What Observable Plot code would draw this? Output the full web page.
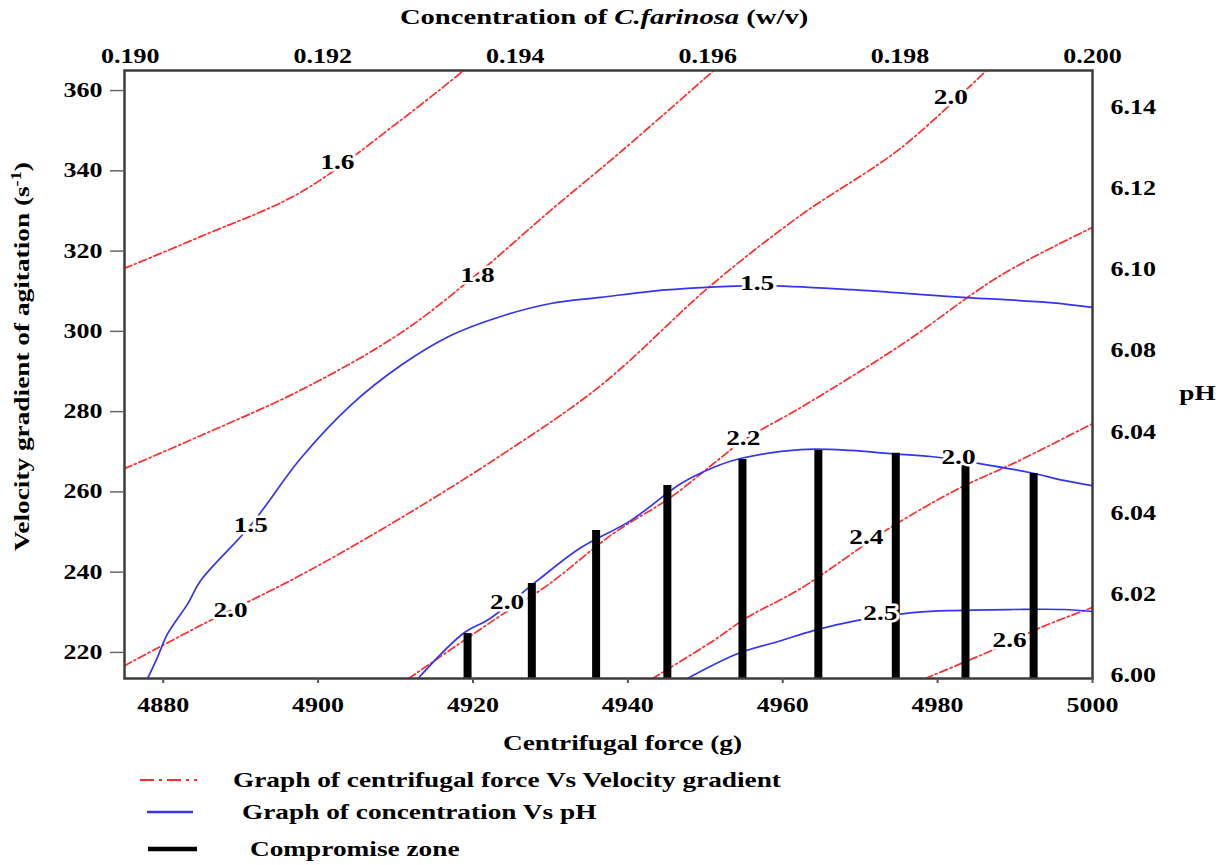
<!DOCTYPE html>
<html>
<head>
<meta charset="utf-8">
<script src="https://cdn.jsdelivr.net/npm/d3@7"></script>
<script src="https://cdn.jsdelivr.net/npm/@observablehq/plot@0.6"></script>
<style>
html,body{margin:0;padding:0;background:#fff;}
#wrap{position:relative;width:1225px;height:865px;font-family:"Liberation Serif","Times New Roman",serif;font-weight:bold;color:#000;}
#title{position:absolute;top:4px;left:0;width:1208px;text-align:center;font-size:22px;line-height:26px;white-space:nowrap;}
#title span{display:inline-block;transform:scaleX(1.3);transform-origin:50% 50%;}
#chart{position:absolute;top:36px;left:0;}
.leg{position:absolute;left:0;width:900px;height:24px;}
.leg svg{position:absolute;top:0;left:0;}
.leg span{position:absolute;top:0;white-space:nowrap;font-size:21px;line-height:24px;transform:scaleX(1.3);transform-origin:0 50%;}
</style>
</head>
<body>
<div id="wrap">
  <div id="title"><span>Concentration of <i>C.farinosa</i> (w/v)</span></div>
  <div id="chart"></div>
  <div id="legend"></div>
</div>
<script>
// ---------- axes / scales ----------
const xDomain = [4875, 5000];          // centrifugal force (g)
const yDomain = [213.5, 365];          // velocity gradient (s^-1)
const concDomain = [0.18994, 0.2];     // concentration of C.farinosa (w/v), top axis
const pHDomain = [5.9993, 6.1491];     // pH, right axis

const xTicks = [4880, 4900, 4920, 4940, 4960, 4980, 5000];
const yTicks = [220, 240, 260, 280, 300, 320, 340, 360];
const concTicks = [0.190, 0.192, 0.194, 0.196, 0.198, 0.200];
const concTickLabels = ["0.190", "0.192", "0.194", "0.196", "0.198", "0.200"];
const pHTicks = [6.00, 6.02, 6.04, 6.06, 6.08, 6.10, 6.12, 6.14];
const pHTickLabels = ["6.00", "6.02", "6.04", "6.04", "6.08", "6.10", "6.12", "6.14"];

// ---------- centrifugal force vs velocity gradient contours [g, s^-1] ----------
const cfContour1 = [[4875.0,315.7],[4884.8,323.6],[4897.7,334.6],[4910.6,352.5],[4919.0,365.3]];
const cfContour2 = [[4875.0,265.8],[4884.8,274.0],[4897.7,285.3],[4910.6,299.5],[4920.3,313.9],[4930.0,330.1],[4939.0,344.6],[4951.2,365.2]];
const cfContour3 = [[4875.0,216.7],[4884.8,226.7],[4897.7,239.2],[4910.6,253.4],[4923.6,269.1],[4936.5,286.5],[4950.7,311.4],[4962.3,328.9],[4975.2,345.6],[4986.4,365.2]];
const cfContour4 = [[4911.7,213.5],[4923.2,228.7],[4929.6,236.7],[4938.1,249.6],[4945.5,258.6],[4951.1,267.1],[4954.9,272.8],[4962.3,281.0],[4975.2,296.5],[4988.1,313.9],[5000.0,325.9]];
const cfContour5 = [[4943.2,213.5],[4951.1,223.0],[4955.4,228.7],[4962.3,235.9],[4973.9,251.1],[4983.0,261.1],[4989.8,267.1],[5000.0,277.0]];
const cfContour6 = [[4978.4,213.5],[4983.0,217.2],[4989.0,222.2],[4993.3,226.2],[5000.0,231.2]];

// ---------- concentration vs pH contours [w/v, pH] ----------
const phContour1 = [[0.19018,5.9993],[0.19028,6.0044],[0.19039,6.0104],[0.19060,6.0178],[0.19073,6.0234],[0.19125,6.0370],[0.19177,6.0535],[0.19229,6.0666],[0.19281,6.0764],[0.19333,6.0838],[0.19385,6.0885],[0.19437,6.0917],[0.19489,6.0932],[0.19541,6.0947],[0.19593,6.0956],[0.19655,6.0961],[0.19749,6.0951],[0.19853,6.0934],[0.19956,6.0919],[0.20000,6.0907]];
const phContour2 = [[0.19299,5.9993],[0.19346,6.0104],[0.19374,6.0141],[0.19423,6.0234],[0.19468,6.0315],[0.19520,6.0382],[0.19572,6.0473],[0.19606,6.0513],[0.19634,6.0535],[0.19697,6.0557],[0.19749,6.0555],[0.19790,6.0547],[0.19832,6.0540],[0.19884,6.0522],[0.19936,6.0500],[0.19970,6.0481],[0.20000,6.0468]];
const phContour3 = [[0.19579,5.9993],[0.19631,6.0054],[0.19676,6.0086],[0.19710,6.0111],[0.19756,6.0136],[0.19804,6.0153],[0.19849,6.0160],[0.19918,6.0163],[0.19970,6.0163],[0.20000,6.0158]];

// ---------- compromise zone ----------
const zoneCF = [4919.3, 4927.6, 4935.9, 4945.1, 4954.8, 4964.6, 4974.6, 4983.6, 4992.4];
const zoneTop = [224.7, 237.2, 250.4, 261.6, 268.1, 270.3, 269.6, 266.6, 264.6];

// ---------- contour labels ----------
const labelText = ["1.6", "1.8", "2.0", "2.0", "2.0", "2.2", "2.4", "2.6", "1.5", "1.5", "2.0", "2.5"];
const labelCF   = [4902.5, 4920.6, 4888.7, 4981.7, 4924.4, 4954.9, 4970.8, 4989.3, 4891.3, 4956.7, 4982.7, 4972.6];
const labelV    = [342.1, 313.9, 230.4, 358.3, 232.4, 273.3, 248.6, 223.0, 251.6, 311.9, 268.6, 229.7];

// ---------- legend ----------
const legendLabels = ["Graph of centrifugal force Vs Velocity gradient", "Graph of concentration Vs pH", "Compromise zone"];

const RED = "#ff2b2b", BLUE = "#3434f2";

const toX = c => xDomain[0] + (c - concDomain[0]) / (concDomain[1] - concDomain[0]) * (xDomain[1] - xDomain[0]);
const toY = p => yDomain[0] + (p - pHDomain[0]) / (pHDomain[1] - pHDomain[0]) * (yDomain[1] - yDomain[0]);
const concLabelAt = d => concTickLabels[concTicks.findIndex(c => Math.abs(toX(c) - d) < 1e-6)];
const pHLabelAt = d => pHTickLabels[pHTicks.findIndex(p => Math.abs(toY(p) - d) < 1e-6)];

const redContours = [cfContour1, cfContour2, cfContour3, cfContour4, cfContour5, cfContour6];
const blueContours = [phContour1, phContour2, phContour3];
const zone = zoneCF.map((x, i) => ({x, top: zoneTop[i]}));
const labels = labelText.map((t, i) => ({t, x: labelCF[i], y: labelV[i]}));

const chart = Plot.plot({
  width: 1225,
  height: 730,
  marginTop: 34,
  marginLeft: 124,
  marginRight: 133,
  marginBottom: 88,
  x: {domain: xDomain},
  y: {domain: yDomain},
  style: {fontFamily: "'Liberation Serif','Times New Roman',serif", fontSize: "20px", fontWeight: "bold", color: "#000", background: "transparent", overflow: "visible"},
  marks: [
    ...redContours.map(c => Plot.line(c, {x: d => d[0], y: d => d[1], stroke: RED, strokeWidth: 1.7, strokeDasharray: "8,3,2,3", curve: "catmull-rom", clip: true})),
    ...blueContours.map(c => Plot.line(c, {x: d => toX(d[0]), y: d => toY(d[1]), stroke: BLUE, strokeWidth: 1.7, curve: "catmull-rom", clip: true})),
    Plot.ruleX(zone, {x: "x", y1: yDomain[0], y2: "top", stroke: "#000", strokeWidth: 8}),
    Plot.text(labels, {x: "x", y: "y", text: "t", fill: "#000", stroke: "white", strokeWidth: 5, fontSize: 21, fontWeight: "bold"}),
    Plot.frame({stroke: "#3d3d3d", strokeWidth: 2.5}),
    Plot.axisY({ticks: yTicks, anchor: "left", tickSize: 14, tickPadding: 8, tickFormat: d => `${d}`, label: null, stroke: "#666", strokeWidth: 1.5, fill: "#000", fontSize: 20}),
    Plot.axisX({ticks: xTicks, anchor: "bottom", tickSize: 5, tickPadding: 14, tickFormat: d => `${d}`, label: null, stroke: "#555", strokeWidth: 2, fill: "#000", fontSize: 20}),
    Plot.axisX({ticks: concTicks.map(toX), anchor: "top", tickSize: 0, tickPadding: 8, tickFormat: concLabelAt, label: null, fill: "#000", fontSize: 20}),
    Plot.axisY({ticks: pHTicks.map(toY), anchor: "right", tickSize: 0, tickPadding: 18, tickFormat: pHLabelAt, label: null, fill: "#000", fontSize: 20}),
    Plot.text(["Velocity gradient of agitation (s"], {frameAnchor: "left", rotate: -90, dx: -102, dy: -18, textAnchor: "middle", lineAnchor: "middle", fontSize: 21, fontWeight: "bold", fill: "#000"}),
    Plot.text(["Centrifugal force (g)"], {frameAnchor: "bottom", dx: 14, dy: 65, textAnchor: "middle", lineAnchor: "middle", fontSize: 21, fontWeight: "bold", fill: "#000"}),
    Plot.text(["pH"], {frameAnchor: "right", dx: 105, dy: 19, textAnchor: "middle", lineAnchor: "middle", fontSize: 21, fontWeight: "bold", fill: "#000"})
  ]
});
document.getElementById("chart").appendChild(chart);

// superscript in the left title
const ns = "http://www.w3.org/2000/svg";
chart.querySelectorAll("text").forEach(t => {
  if (t.textContent === "Velocity gradient of agitation (s") {
    const sup = document.createElementNS(ns, "tspan");
    sup.setAttribute("dy", "-8"); sup.setAttribute("font-size", "14");
    sup.textContent = "-1";
    const close = document.createElementNS(ns, "tspan");
    close.setAttribute("dy", "8");
    close.textContent = ")";
    t.appendChild(sup); t.appendChild(close);
  }
});
// the reference uses wide (horizontally stretched) glyphs: widen every text
const SX = 1.3;
chart.querySelectorAll("text").forEach(t => {
  const L = t.getComputedTextLength();
  if (L > 0) {
    t.setAttribute("textLength", (L * SX).toFixed(1));
    t.setAttribute("lengthAdjust", "spacingAndGlyphs");
  }
});

// legend
const legendStyle = [
  {color: RED, width: 2.2, dash: "14,5,3,5", x1: 140, x2: 197, textX: 233, cy: 780},
  {color: BLUE, width: 2.5, dash: null, x1: 147, x2: 193, textX: 242, cy: 812},
  {color: "#000", width: 4.5, dash: null, x1: 148, x2: 197, textX: 250, cy: 849}
];
const legend = d3.select("#legend");
legendLabels.forEach((lab, i) => {
  const s = legendStyle[i];
  const row = legend.append("div").attr("class", "leg").style("top", (s.cy - 12) + "px");
  const svg = row.append("svg").attr("width", 220).attr("height", 24);
  svg.append("line").attr("x1", s.x1).attr("x2", s.x2).attr("y1", 12).attr("y2", 12)
    .attr("stroke", s.color).attr("stroke-width", s.width).attr("stroke-dasharray", s.dash);
  row.append("span").style("left", s.textX + "px").text(lab);
});
</script>
</body>
</html>
